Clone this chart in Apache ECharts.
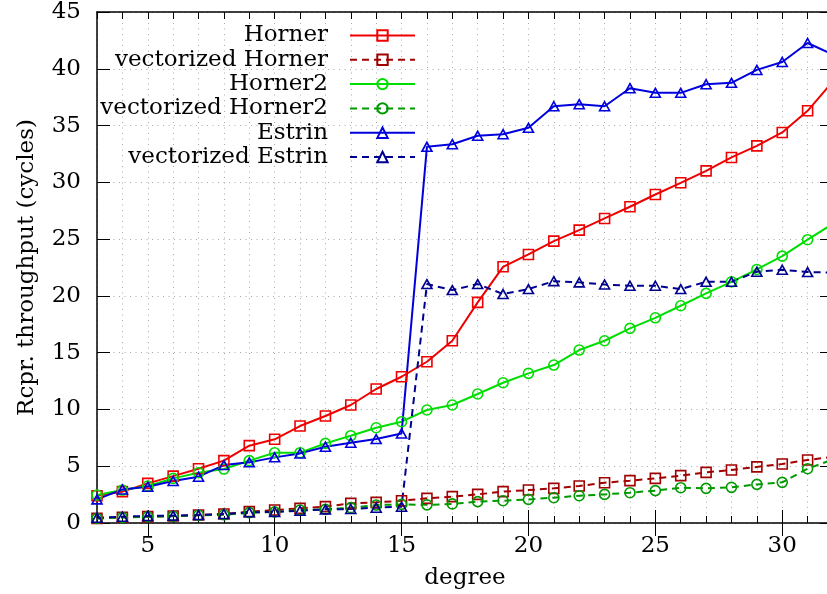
<!DOCTYPE html>
<html>
<head>
<meta charset="utf-8">
<script src="https://cdn.jsdelivr.net/npm/echarts@6/dist/echarts.min.js"></script>
<style>html,body{margin:0;padding:0;background:#fff}#c{width:827px;height:594px}</style>
</head>
<body>
<div id="c"></div>
<script>
var degrees = [3,4,5,6,7,8,9,10,11,12,13,14,15,16,17,18,19,20,21,22,23,24,25,26,27,28,29,30,31,32];
var horner = [2.4,2.76,3.49,4.13,4.78,5.49,6.81,7.37,8.54,9.42,10.39,11.8,12.88,14.2,16.05,19.43,22.56,23.65,24.82,25.79,26.82,27.85,28.93,29.96,31.01,32.19,33.21,34.39,36.3,38.9];
var vecHorner = [0.41,0.5,0.56,0.62,0.7,0.79,1.0,1.14,1.29,1.44,1.73,1.82,1.96,2.17,2.32,2.52,2.76,2.9,3.05,3.26,3.55,3.73,3.93,4.17,4.46,4.67,4.94,5.2,5.55,5.83];
var horner2 = [2.46,2.9,3.26,3.93,4.43,4.75,5.49,6.19,6.19,7.01,7.69,8.39,8.92,9.95,10.39,11.36,12.35,13.18,13.91,15.23,16.05,17.14,18.07,19.13,20.22,21.24,22.33,23.5,24.95,26.35];
var vecHorner2 = [0.4,0.48,0.55,0.6,0.68,0.72,0.91,0.98,1.14,1.2,1.35,1.58,1.64,1.6,1.68,1.88,1.96,2.08,2.23,2.4,2.52,2.67,2.85,3.11,3.05,3.14,3.4,3.58,4.78,5.6];
var estrin = [2.08,2.96,3.2,3.7,4.08,5.1,5.34,5.78,6.13,6.72,7.07,7.39,7.89,33.13,33.36,34.1,34.24,34.8,36.7,36.88,36.7,38.29,37.88,37.88,38.64,38.76,39.9,40.6,42.27,41.25];
var vecEstrin = [0.47,0.56,0.62,0.65,0.7,0.79,0.94,0.98,1.08,1.2,1.23,1.35,1.44,21.04,20.51,21.04,20.16,20.6,21.3,21.19,21.0,20.89,20.89,20.6,21.24,21.24,22.13,22.3,22.1,22.05];
var xMajorTicks = [5,10,15,20,25,30];
var seriesNames = ['Horner','vectorized Horner','Horner2','vectorized Horner2','Estrin','vectorized Estrin'];

var FONT = 'DejaVu Serif';
var FS = 23;
var gridLine = {show:true, lineStyle:{color:'#aaaaaa', width:1, type:[1,4.5]}};

function pairs(vals){ return degrees.map(function(d,i){return [d, vals[i]];}); }
function mk(name, vals, color, symbol, dashed){
  return {
    name:name, type:'line', data:pairs(vals), xAxisIndex:0, yAxisIndex:0,
    symbol:symbol, symbolSize: symbol==='triangle' ? [10,9] : 10,
    lineStyle:{color:color, width:2, type: dashed ? [7,5] : 'solid'},
    itemStyle:{color:'rgba(0,0,0,0)', borderColor:color, borderWidth:1.6},
    emphasis:{disabled:true}, clip:true
  };
}

var xBase = {type:'value', min:3, max:32, interval:1, gridIndex:0};
var chart = echarts.init(document.getElementById('c'), null, {renderer:'canvas'});
chart.setOption({
  animation:false,
  backgroundColor:'#fff',
  grid:{left:97, width:736, top:12, bottom:71, containLabel:false, outerBoundsMode:'none'},
  legend:{
    data:seriesNames, orient:'vertical', align:'right', right:411, top:24, padding:0,
    itemWidth:65, itemHeight:13, itemGap:1.3, selectedMode:false,
    textStyle:{fontFamily:FONT, fontSize:FS, color:'#000', lineHeight:20, padding:[0,17,0,0]}
  },
  xAxis:[
    Object.assign({}, xBase, {position:'bottom',
      axisLine:{show:true, onZero:false, lineStyle:{color:'#000', width:1.5}},
      axisTick:{show:true, inside:true, length:7, lineStyle:{color:'#000', width:1}},
      axisLabel:{show:false}, splitLine:gridLine,
      name:'degree', nameLocation:'middle', nameGap:44,
      nameTextStyle:{fontFamily:FONT, fontSize:FS, color:'#000'}}),
    Object.assign({}, xBase, {position:'bottom',
      axisLine:{show:false},
      axisTick:{show:true, inside:true, length:13, customValues:xMajorTicks, lineStyle:{color:'#000', width:1}},
      axisLabel:{show:true, customValues:xMajorTicks, margin:12, fontFamily:FONT, fontSize:FS, color:'#000'},
      splitLine:{show:false}}),
    Object.assign({}, xBase, {position:'top',
      axisLine:{show:true, onZero:false, lineStyle:{color:'#000', width:1.5}},
      axisTick:{show:true, inside:true, length:7, lineStyle:{color:'#000', width:1}},
      axisLabel:{show:false}, splitLine:{show:false}}),
    Object.assign({}, xBase, {position:'top',
      axisLine:{show:false},
      axisTick:{show:true, inside:true, length:13, customValues:xMajorTicks, lineStyle:{color:'#000', width:1}},
      axisLabel:{show:false}, splitLine:{show:false}})
  ],
  yAxis:[
    {type:'value', min:0, max:45, interval:5, position:'left',
      axisLine:{show:true, onZero:false, lineStyle:{color:'#000', width:1.5}},
      axisTick:{show:true, inside:true, length:13, lineStyle:{color:'#000', width:1}},
      axisLabel:{margin:16, fontFamily:FONT, fontSize:FS, color:'#000'},
      splitLine:gridLine,
      name:'Rcpr. throughput (cycles)', nameLocation:'middle', nameGap:58,
      nameTextStyle:{fontFamily:FONT, fontSize:FS, color:'#000'}},
    {type:'value', min:0, max:45, interval:5, position:'right',
      axisLine:{show:true, onZero:false, lineStyle:{color:'#000', width:1.5}},
      axisTick:{show:true, inside:true, length:13, lineStyle:{color:'#000', width:1}},
      axisLabel:{show:false}, splitLine:{show:false}}
  ],
  series:[
    mk(seriesNames[0], horner, '#ee0000', 'rect', false),
    mk(seriesNames[1], vecHorner, '#a00000', 'rect', true),
    mk(seriesNames[2], horner2, '#00dd00', 'circle', false),
    mk(seriesNames[3], vecHorner2, '#009900', 'circle', true),
    mk(seriesNames[4], estrin, '#0000dd', 'triangle', false),
    mk(seriesNames[5], vecEstrin, '#000090', 'triangle', true)
  ]
});
</script>
</body>
</html>
